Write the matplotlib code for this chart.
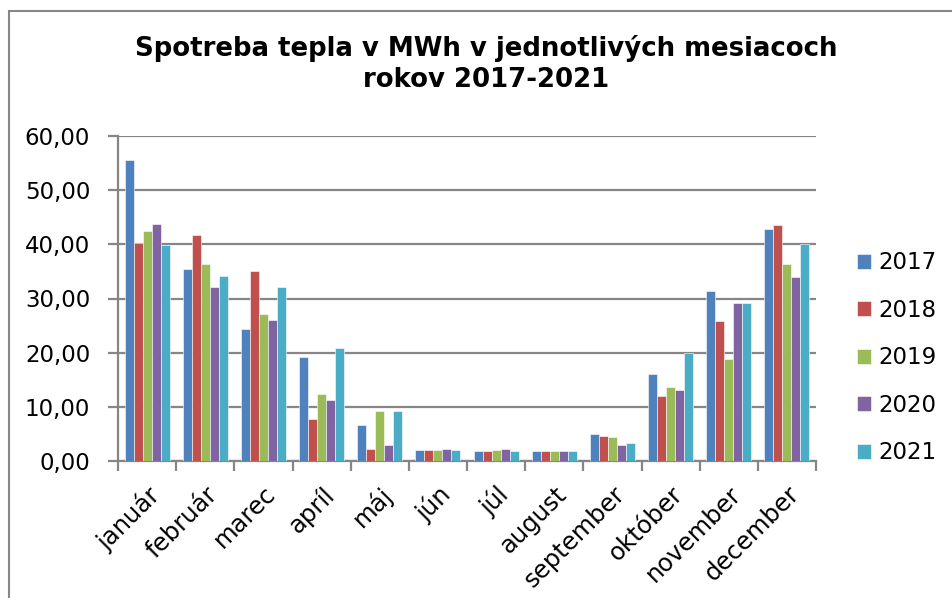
"""Spotreba tepla po mesiacoch, roky 2017-2021."""

from matplotlib import pyplot
from matplotlib.patches import Rectangle
from matplotlib.transforms import ScaledTranslation
import numpy

months = ['január', 'február', 'marec', 'apríl', 'máj', 'jún', 'júl',
          'august', 'september', 'október', 'november', 'december']
years = ['2017', '2018', '2019', '2020', '2021']
v2017 = [55.5, 35.4, 24.3, 19.2, 6.7, 2.0, 1.8, 1.8, 4.9, 16.0, 31.3, 42.8]
v2018 = [40.3, 41.8, 35.1, 7.7, 2.3, 2.0, 1.8, 1.8, 4.6, 12.0, 25.9, 43.6]
v2019 = [42.5, 36.3, 27.1, 12.4, 9.3, 2.0, 2.0, 1.8, 4.4, 13.7, 18.9, 36.3]
v2020 = [43.7, 32.1, 26.1, 11.3, 2.9, 2.2, 2.2, 1.8, 2.9, 13.2, 29.1, 33.9]
v2021 = [39.9, 34.2, 32.1, 20.9, 9.3, 2.1, 1.8, 1.8, 3.4, 20.0, 29.1, 40.1]
series = [v2017, v2018, v2019, v2020, v2021]
colors = ['#4F81BD', '#C0504D', '#9BBB59', '#8064A2', '#4BACC6']

pyplot.rc('font', family='DejaVu Sans')
grey = '#868686'

fig = pyplot.figure(figsize=(9.52, 5.98), dpi=100)
ax = fig.add_axes([118 / 952, 137 / 598, 698 / 952, 325 / 598])

# chart border like in Excel
fig.patches.append(Rectangle((9 / 952, -0.1), 1.2, 1.1 - 11 / 598,
                             transform=fig.transFigure, fill=False,
                             edgecolor=grey, linewidth=1.5))

x = numpy.arange(len(months))
width = 0.155
for i, (vals, year) in enumerate(zip(series, years)):
    ax.bar(x + (i - 2) * width, vals, width, color=colors[i], label=year,
           edgecolor='white', linewidth=0.4, zorder=3)

ax.set_xlim(-0.5, len(months) - 0.5)
ax.set_ylim(0, 60)
ax.set_yticks(numpy.arange(0, 61, 10))
ax.set_yticklabels([f'{v:.2f}'.replace('.', ',') for v in range(0, 61, 10)],
                   fontsize=16.5)
ax.yaxis.grid(True, color=grey, linewidth=1.6, zorder=0)
ax.set_axisbelow(True)

ax.set_xticks(x)
ax.set_xticklabels(months, rotation=45, ha='right', va='top',
                   rotation_mode='anchor', fontsize=17.5)
shift = ScaledTranslation(-5 / 100, 0, fig.dpi_scale_trans)
for lbl in ax.get_xticklabels():
    lbl.set_transform(lbl.get_transform() + shift)
ax.set_xticks(numpy.arange(-0.5, len(months)), minor=True)
ax.tick_params(axis='x', which='major', length=0, pad=15)
ax.tick_params(axis='x', which='minor', length=7, width=1.6, color=grey)
ax.tick_params(axis='y', length=7, width=1.6, color=grey, pad=13)

for side in ['top', 'right']:
    ax.spines[side].set_visible(False)
for side in ['left', 'bottom']:
    ax.spines[side].set_color(grey)
    ax.spines[side].set_linewidth(1.6)

fig.text(486 / 952, 1 - 64 / 598,
         'Spotreba tepla v MWh v jednotlivých mesiacoch\nrokov 2017-2021',
         ha='center', va='center', fontsize=18.7, fontweight='bold',
         linespacing=1.28)

fig.legend(loc='upper left', bbox_to_anchor=(848 / 952, 1 - 242 / 598),
           frameon=False, fontsize=16.5, handlelength=0.62, handleheight=0.62,
           handletextpad=0.3, labelspacing=1.07, borderaxespad=0)

fig.savefig('out.png', dpi=100)
